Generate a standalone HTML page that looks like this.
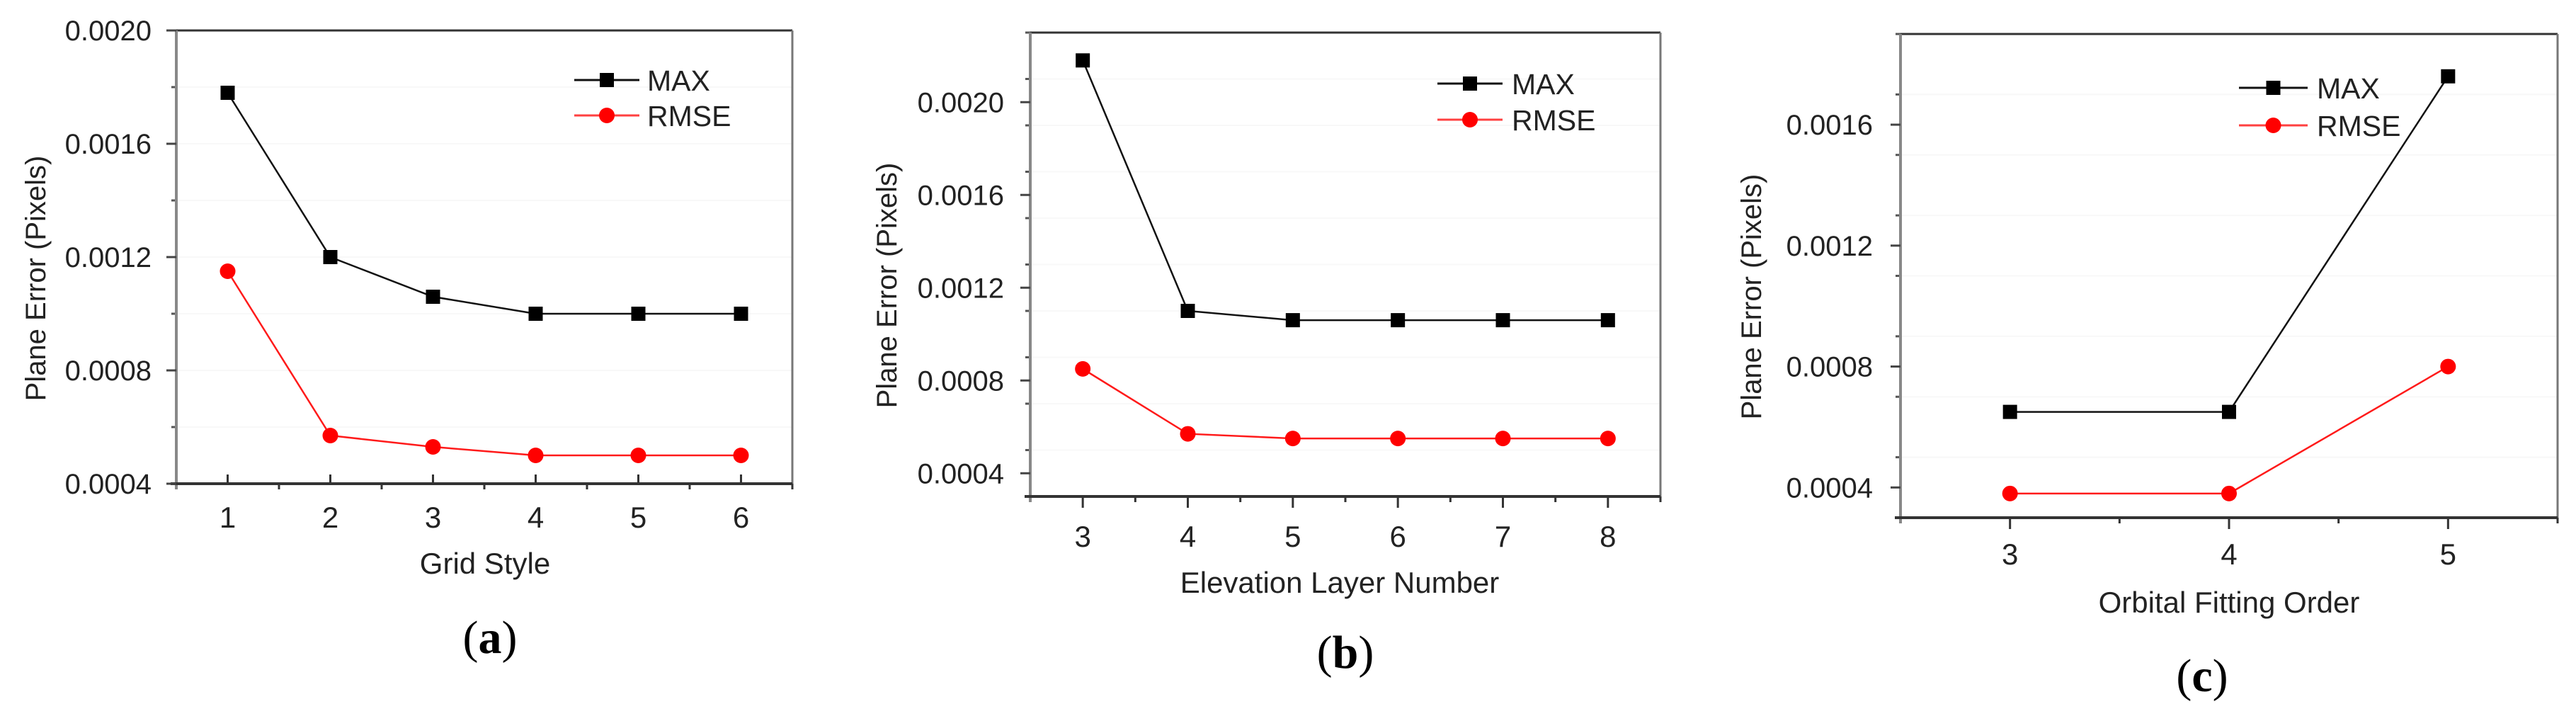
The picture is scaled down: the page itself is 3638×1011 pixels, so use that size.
<!DOCTYPE html>
<html><head><meta charset="utf-8"><style>
html,body{margin:0;padding:0;background:#fff;}
svg{display:block;}
text{font-family:"Liberation Sans",Arial,sans-serif;fill:#222;}
.lab{font-family:"Liberation Serif","Times New Roman",serif;fill:#000;}
</style></head><body>
<svg id="fig" width="3638" height="1011" viewBox="0 0 3638 1011" xmlns="http://www.w3.org/2000/svg"></svg>
<script>
// Panel (a)
const catsA = [1,2,3,4,5,6];
const maxA = [0.00178,0.0012,0.00106,0.0010,0.0010,0.0010];
const rmseA = [0.00115,0.00057,0.00053,0.0005,0.0005,0.0005];
const yTicksA = ["0.0004","0.0008","0.0012","0.0016","0.0020"];
// Panel (b)
const catsB = [3,4,5,6,7,8];
const maxB = [0.00218,0.0011,0.00106,0.00106,0.00106,0.00106];
const rmseB = [0.00085,0.00057,0.00055,0.00055,0.00055,0.00055];
const yTicksB = ["0.0004","0.0008","0.0012","0.0016","0.0020"];
// Panel (c)
const catsC = [3,4,5];
const maxC = [0.00065,0.00065,0.00176];
const rmseC = [0.00038,0.00038,0.0008];
const yTicksC = ["0.0004","0.0008","0.0012","0.0016"];
const legendNames = ["MAX","RMSE"];

const NS="http://www.w3.org/2000/svg";
const svg=document.getElementById('fig');
function mk(tag,attrs,parent){const e=document.createElementNS(NS,tag);for(const k in attrs)e.setAttribute(k,attrs[k]);(parent||svg).appendChild(e);return e;}

function panel(id,cfg,cats,maxV,rmseV,yTicks){
  const g=mk('g',{});
  
  
  const L=cfg.L,R=cfg.R,T=cfg.T,B=cfg.B;
  const xs=v=>L+(v-cfg.xmin)/(cfg.xmax-cfg.xmin)*(R-L);
  const ys=v=>B-(v-cfg.ymin)/(cfg.ymax-cfg.ymin)*(B-T);
  for(let v=cfg.ymin;v<=cfg.ymax+1e-9;v+=0.0002){
    const y=ys(v);
    const gl=mk('line',{x1:L,x2:R,y1:y,y2:y,stroke:'#f8f8f8','stroke-width':2},g);
    
    
  }
  for(let v=cfg.ymin;v<=cfg.ymax+1e-9;v+=0.0002){
    const y=ys(v);
    const mt=mk('line',{x1:L-7,x2:L,y1:y,y2:y,stroke:'#555','stroke-width':3},g);
    
    
  }
  const top=mk('line',{x1:L,x2:R,y1:T,y2:T,stroke:'#333','stroke-width':3},g);
  
  const right=mk('line',{x1:R,x2:R,y1:T,y2:B,stroke:'#777','stroke-width':3},g);
  
  const left=mk('line',{x1:L,x2:L,y1:T,y2:B+8,stroke:'#888','stroke-width':4},g);
  
  const bottom=mk('line',{x1:L-8,x2:R,y1:B,y2:B,stroke:'#333','stroke-width':4},g);
  
  yTicks.forEach(t=>{
    const y=ys(parseFloat(t));
    const tk=mk('line',{x1:L-14,x2:L,y1:y,y2:y,stroke:'#444','stroke-width':3},g);
    
    const tx=mk('text',{x:cfg.tickR,y:y+14,'text-anchor':'end','font-size':40},g);
    tx.textContent=t;
    
  });
  cats.forEach(c=>{
    const x=xs(c);
    const tk=mk('line',{x1:x,x2:x,y1:cfg.inTicks?B-13:B,y2:cfg.inTicks?B:B+16,stroke:'#333','stroke-width':3},g);
    
    const mt=mk('line',{x1:x+(xs(c+1)-x)/2,x2:x+(xs(c+1)-x)/2,y1:B,y2:B+8,stroke:'#333','stroke-width':3},g);
    
    const tx=mk('text',{x:x,y:cfg.xlabY+15,'text-anchor':'middle','font-size':42},g);
    tx.textContent=String(c);
    
  });
  const xt=mk('text',{x:cfg.xtX,y:cfg.xtY+15,'text-anchor':'middle','font-size':42},g);
  xt.textContent=cfg.xTitle;
  const yt=mk('text',{x:0,y:0,'text-anchor':'middle','font-size':40,transform:`translate(${cfg.ytX+14},${cfg.ytY}) rotate(-90)`},g);
  yt.textContent='Plane Error (Pixels)';
  const pl=mk('text',{x:cfg.pX,y:cfg.pY+22,'text-anchor':'middle','font-size':66,class:'lab'},g);
  pl.innerHTML='(<tspan font-weight="bold">'+id+'</tspan>)';
  
  const series=[{v:maxV,c:'#111',name:'max'},{v:rmseV,c:'#ff1a1a',name:'rmse'}];
  series.forEach(s=>{
    const pts=cats.map((c,i)=>xs(c)+','+ys(s.v[i])).join(' ');
    const pl2=mk('polyline',{points:pts,fill:'none',stroke:s.c,'stroke-width':2.5},g);
    
    cats.forEach((c,i)=>{
      let m;
      if(s.name==='max') m=mk('rect',{x:xs(c)-10,y:ys(s.v[i])-10,width:20,height:20,fill:'#000'},g);
      else m=mk('circle',{cx:xs(c),cy:ys(s.v[i]),r:11,fill:'#ff0000'},g);
      
      
    });
  });
  const lg=cfg.leg;
  legendNames.forEach((n,i)=>{
    const y=i===0?lg.y1:lg.y2;
    const col=i===0?'#111':'#ff4040';
    const ln=mk('line',{x1:lg.x1,x2:lg.x2,y1:y,y2:y,stroke:col,'stroke-width':3},g);
    
    const mx=(lg.x1+lg.x2)/2;
    const mm=i===0?mk('rect',{x:mx-10,y:y-10,width:20,height:20,fill:'#000'},g):mk('circle',{cx:mx,cy:y,r:11,fill:'#ff0000'},g);
    
    const t=mk('text',{x:lg.tx,y:y+15,'font-size':41},g);
    t.textContent=n;
    
  });
}

panel('a',{L:249,R:1119,T:43,B:683,xmin:0.5,xmax:6.5,ymin:0.0004,ymax:0.0020,tickR:214,
  xlabY:730,xtX:685,xtY:795,xTitle:'Grid Style',ytX:50,ytY:393,pX:692,pY:900,inTicks:true,
  leg:{x1:811,x2:903,y1:113,y2:163,tx:914}},catsA,maxA,rmseA,yTicksA);
panel('b',{L:1455,R:2345,T:46,B:701,xmin:2.5,xmax:8.5,ymin:0.0003,ymax:0.0023,tickR:1418,
  xlabY:757,xtX:1892,xtY:822,xTitle:'Elevation Layer Number',ytX:1252,ytY:403,pX:1900,pY:921,inTicks:false,
  leg:{x1:2030,x2:2122,y1:118,y2:169,tx:2135}},catsB,maxB,rmseB,yTicksB);
panel('c',{L:2684,R:3612,T:48,B:731,xmin:2.5,xmax:5.5,ymin:0.0003,ymax:0.0019,tickR:2645,
  xlabY:782,xtX:3148,xtY:850,xTitle:'Orbital Fitting Order',ytX:2473,ytY:419,pX:3110,pY:954,inTicks:false,
  leg:{x1:3162,x2:3259,y1:124,y2:177,tx:3272}},catsC,maxC,rmseC,yTicksC);
</script>
</body></html>
